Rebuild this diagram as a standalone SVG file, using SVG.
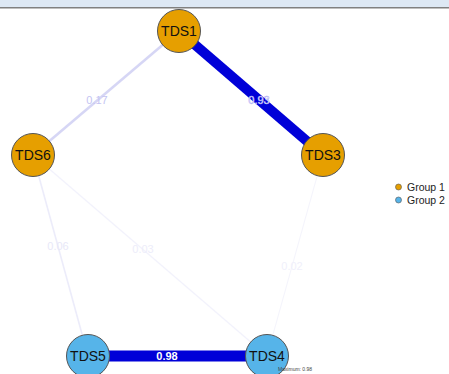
<svg xmlns="http://www.w3.org/2000/svg" width="449" height="374" viewBox="0 0 449 374">
<style>
.node circle{stroke:#555;stroke-width:1}
.g1 circle{fill:#E69F00}
.g2 circle{fill:#56B4E9}
.node text{font-family:"Liberation Sans",Arial,sans-serif;font-size:14px;fill:#111;text-anchor:middle;dominant-baseline:central}
.el{font-family:"Liberation Sans",Arial,sans-serif;font-size:11px;text-anchor:middle;dominant-baseline:central}
.leg{font-family:"Liberation Sans",Arial,sans-serif;font-size:10.5px;fill:#222;dominant-baseline:central}
</style>
<rect x="0" y="0" width="449" height="374" fill="#ffffff"/>
<rect x="0" y="0" width="449" height="7" fill="#dde8f4"/>
<rect x="0" y="7" width="449" height="1.5" fill="#808080"/>
<g id="connectors">
<line x1="33" y1="155" x2="267" y2="356" stroke="#f2f2fc" stroke-width="1.2"/>
<line x1="33" y1="155" x2="88" y2="356" stroke="#ececfa" stroke-width="1.6"/>
<line x1="323" y1="155" x2="267" y2="356" stroke="#f4f4fc" stroke-width="1"/>
<line x1="179" y1="31" x2="33" y2="155" stroke="#d6d6f5" stroke-width="2.5"/>
<line x1="179" y1="31" x2="323" y2="155" stroke="#0000d8" stroke-width="10"/>
<line x1="88" y1="356" x2="267" y2="356" stroke="#0000d8" stroke-width="11"/>
<text class="el" x="97" y="100" fill="#c4c4f2">0.17</text>
<text class="el" x="259" y="100" fill="#ffffff" stroke="#a8a8f4" stroke-width="0.5">0.93</text>
<text class="el" x="58" y="246" fill="#e8e8f8">0.06</text>
<text class="el" x="143" y="249" fill="#ededfa">0.03</text>
<text class="el" x="292" y="266" fill="#f0f0fb">0.02</text>
<text class="el" x="167" y="356" fill="#ffffff" font-size="10" font-weight="bold">0.98</text>
</g>
<g id="TDS1" class="node g1"><circle cx="179" cy="31" r="21.5"/><text x="179" y="31">TDS1</text></g>
<g id="TDS3" class="node g1"><circle cx="323" cy="155" r="21.5"/><text x="323" y="155">TDS3</text></g>
<g id="TDS6" class="node g1"><circle cx="33" cy="155" r="21.5"/><text x="33" y="155">TDS6</text></g>
<g id="TDS5" class="node g2"><circle cx="88" cy="356" r="21.5"/><text x="88" y="356">TDS5</text></g>
<g id="TDS4" class="node g2"><circle cx="267" cy="356" r="21.5"/><text x="267" y="356">TDS4</text></g>
<text x="295" y="371" font-family="'Liberation Sans',Arial,sans-serif" font-size="5" fill="#444" text-anchor="middle">Maximum: 0.98</text>
<g id="legend">
<circle cx="398.5" cy="187" r="3" fill="#E69F00" stroke="#555" stroke-width="0.6"/>
<text class="leg" x="407" y="187">Group 1</text>
<circle cx="398.5" cy="200" r="3" fill="#56B4E9" stroke="#555" stroke-width="0.6"/>
<text class="leg" x="407" y="200">Group 2</text>
</g>
</svg>
